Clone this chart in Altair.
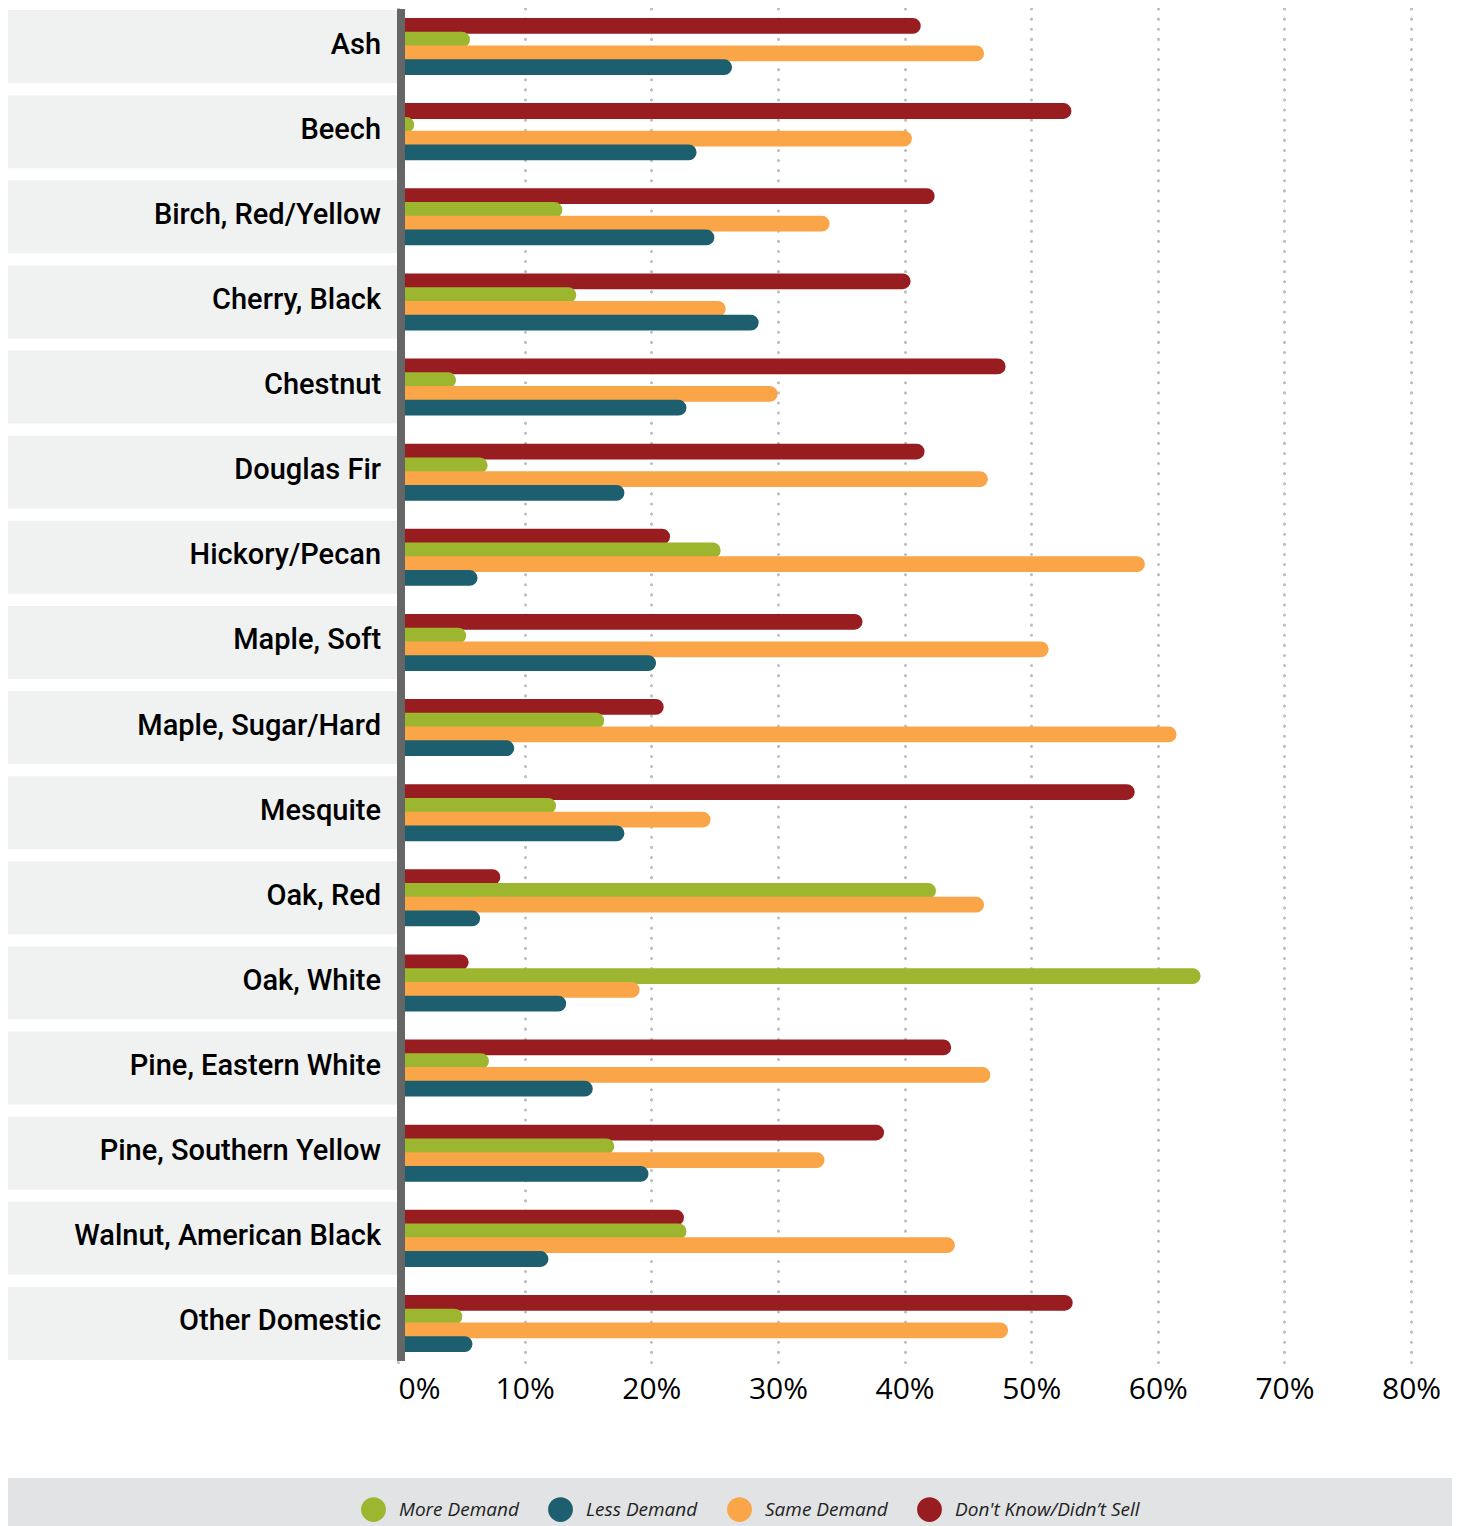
import altair as alt
import pandas as pd

categories = ["Ash", "Beech", "Birch, Red/Yellow", "Cherry, Black", "Chestnut",
              "Douglas Fir", "Hickory/Pecan", "Maple, Soft", "Maple, Sugar/Hard",
              "Mesquite", "Oak, Red", "Oak, White", "Pine, Eastern White",
              "Pine, Southern Yellow", "Walnut, American Black", "Other Domestic"]
series = ["More Demand", "Less Demand", "Same Demand", "Don't Know/Didn\u2019t Sell"]
bar_order = ["Don't Know/Didn\u2019t Sell", "More Demand", "Same Demand", "Less Demand"]
colors = ["#9cb72f", "#1d5f6e", "#f9a548", "#981d21"]

more_demand = [5.6, 1.2, 12.9, 14.0, 4.5, 7.0, 25.4, 5.3, 16.2, 12.4, 42.4, 63.3, 7.1, 17.0, 22.7, 5.0]
less_demand = [26.3, 23.5, 24.9, 28.4, 22.7, 17.8, 6.2, 20.3, 9.1, 17.8, 6.4, 13.2, 15.3, 19.7, 11.8, 5.8]
same_demand = [46.2, 40.5, 34.0, 25.8, 29.9, 46.5, 58.9, 51.3, 61.4, 24.6, 46.2, 19.0, 46.7, 33.6, 43.9, 48.1]
dont_know = [41.2, 53.1, 42.3, 40.4, 47.9, 41.5, 21.4, 36.6, 20.9, 58.1, 8.0, 5.5, 43.6, 38.3, 22.5, 53.2]
ticks = [0, 10, 20, 30, 40, 50, 60, 70, 80]

vals = {"More Demand": more_demand, "Less Demand": less_demand,
        "Same Demand": same_demand, "Don't Know/Didn\u2019t Sell": dont_know}
rows = []
for i, c in enumerate(categories):
    for s in bar_order:
        rows.append({"Category": c, "Series": s, "Value": vals[s][i]})
df = pd.DataFrame(rows)
cat_df = pd.DataFrame({"Category": categories})

W, H = 1444, 1354
X_MIN, X_MAX = -30.8, 83.23

xscale = alt.Scale(domain=[X_MIN, X_MAX], nice=False, zero=False)
yscale = alt.Scale(domain=categories, paddingInner=0.1425, paddingOuter=0.024)
cscale = alt.Scale(domain=series, range=colors)

bands = alt.Chart(cat_df).mark_rect(color="#f0f1f1").encode(
    y=alt.Y("Category:N", scale=yscale, axis=None),
    x=alt.datum(X_MIN, scale=xscale, type="quantitative",
                axis=alt.Axis(values=ticks, labelExpr="datum.value + '%'", domain=False,
                              ticks=False, grid=True, gridColor="#bdbdbd", gridWidth=3,
                              gridDash=[0.1, 10], gridCap="round", labelFont="Open Sans",
                              labelFontSize=30, labelColor="#000", labelPadding=12,
                              labelAlign=alt.condition("datum.value == 0", alt.value("left"), alt.value("center")),
                              labelBaseline="top", title=None, labelFlush=False)),
    x2=alt.datum(0),
)

labels = alt.Chart(cat_df).mark_text(align="right", baseline="middle", font="Roboto",
                                      fontSize=29, fontWeight=500, color="#000", dy=-2).encode(
    y=alt.Y("Category:N", scale=yscale, axis=None),
    x=alt.datum(-1.34),
    text="Category:N",
)

bars = alt.Chart(df).mark_bar(cornerRadiusEnd=7, strokeWidth=2).encode(
    y=alt.Y("Category:N", scale=yscale, axis=None),
    yOffset=alt.YOffset("Series:N", sort=bar_order,
                        scale=alt.Scale(domain=bar_order, paddingInner=0, paddingOuter=0.65)),
    x=alt.X("Value:Q", scale=xscale),
    x2=alt.datum(0),
    stroke=alt.Stroke("Series:N", scale=cscale, legend=None),
    color=alt.Color("Series:N", scale=cscale,
                    legend=alt.Legend(orient="none", legendX=353, legendY=1489,
                                      direction="horizontal", title=None,
                                      symbolType="circle", symbolSize=616,
                                      symbolStrokeWidth=0, symbolOpacity=1,
                                      labelFont="Open Sans", labelFontStyle="italic",
                                      labelFontSize=19, labelColor="#222",
                                      labelOffset=13, columnPadding=29,
                                      labelLimit=400)),
)

axis_line = alt.Chart(cat_df).mark_rule(color="#666666", strokeWidth=7, xOffset=3).encode(
    x=alt.datum(0),
    y=alt.value(1),
    y2=alt.value(H - 1),
)

legend_band = alt.Chart(cat_df).mark_rect(color="#e1e3e5").encode(
    x=alt.value(0), x2=alt.value(W), y=alt.value(1470), y2=alt.value(1518),
)

chart = alt.layer(legend_band, bands, labels, bars, axis_line).properties(
    width=W, height=H,
    autosize=alt.AutoSizeParams(type="none"),
    padding={"left": 0, "top": 0, "right": 0, "bottom": 164},
).configure_view(stroke=None)

chart.save("out.html", embed_options={"renderer": "svg", "actions": False})
